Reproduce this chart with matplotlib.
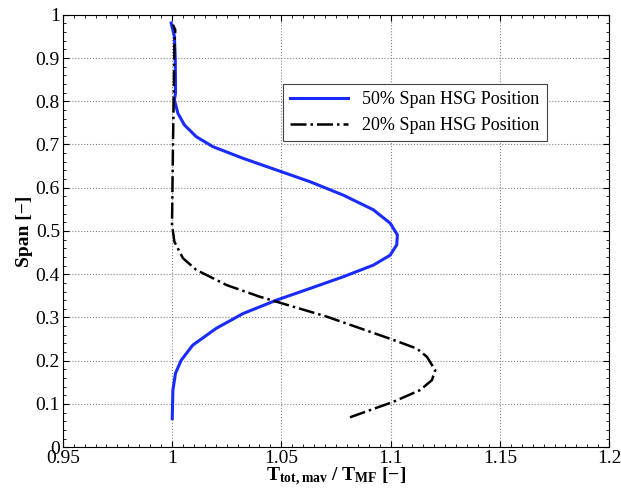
import matplotlib.pyplot as plt
from matplotlib.ticker import MultipleLocator

plt.rcParams['font.family'] = ['Liberation Serif', 'DejaVu Serif']
plt.rcParams['mathtext.fontset'] = 'custom'
plt.rcParams['mathtext.rm'] = 'Liberation Serif'
plt.rcParams['mathtext.bf'] = 'Liberation Serif:bold'

# 50% span HSG position
span_50 = [0.066, 0.132, 0.171, 0.201, 0.236, 0.275, 0.309, 0.340, 0.367, 0.394,
           0.421, 0.444, 0.468, 0.491, 0.518, 0.549, 0.583, 0.614, 0.641, 0.668,
           0.695, 0.718, 0.745, 0.772, 0.803, 0.819, 0.896, 0.950, 0.981]
t_50 = [1.0001, 1.0004, 1.0016, 1.0042, 1.0095, 1.0203, 1.0325, 1.0478, 1.0631, 1.0783,
        1.0921, 1.0998, 1.1028, 1.1031, 1.0998, 1.0921, 1.0783, 1.0631, 1.0478, 1.0325,
        1.0187, 1.0111, 1.0057, 1.0027, 1.0011, 1.0016, 1.0015, 1.0011, 0.9996]

# 20% span HSG position
span_20 = [0.069, 0.105, 0.132, 0.155, 0.178, 0.209, 0.228, 0.248, 0.275, 0.302,
           0.325, 0.348, 0.375, 0.410, 0.437, 0.475, 0.514, 0.600, 0.720, 0.850,
           0.930, 0.965, 0.977]
t_20 = [1.0814, 1.1013, 1.1135, 1.1189, 1.1204, 1.1166, 1.1120, 1.1013, 1.0860, 1.0707,
        1.0554, 1.0401, 1.0249, 1.0111, 1.0050, 1.0011, 1.0000, 1.0002, 1.0005, 1.0009,
        1.0011, 1.0015, 1.0004]

fig = plt.figure(figsize=(6.21, 4.93), dpi=100)
ax = fig.add_axes([0.101, 0.093, 0.880, 0.877])

ax.plot(t_50, span_50, '-', color='#1a2bff', linewidth=2.2, label='50% Span HSG Position')
ax.plot(t_20, span_20, '-.', color='black', linewidth=1.8, label='20% Span HSG Position')

ax.set_xlim(0.95, 1.2)
ax.set_ylim(0, 1)
ax.set_xticks([0.95, 1.0, 1.05, 1.1, 1.15, 1.2])
ax.set_xticklabels(['0.95', '1', '1.05', '1.1', '1.15', '1.2'])
ax.set_yticks([0, 0.1, 0.2, 0.3, 0.4, 0.5, 0.6, 0.7, 0.8, 0.9, 1])
ax.set_yticklabels(['0', '0.1', '0.2', '0.3', '0.4', '0.5', '0.6', '0.7', '0.8', '0.9', '1'])
ax.xaxis.set_minor_locator(MultipleLocator(0.005))
ax.yaxis.set_minor_locator(MultipleLocator(0.02))
ax.tick_params(which='both', direction='in', top=True, right=True, labelsize=14, pad=2)
ax.tick_params(which='major', length=4)
ax.tick_params(which='minor', length=2)
ax.grid(True, linestyle=':', color='gray', linewidth=0.8)

ax.set_xlabel(r'$\mathbf{T_{tot,mav}}$ / $\mathbf{T_{MF}}$ [−]', fontsize=14, fontweight='bold', labelpad=-1)
ax.set_ylabel('Span [−]', fontsize=14, fontweight='bold', labelpad=2)

leg = ax.legend(loc='upper left', bbox_to_anchor=(0.403, 0.84), fontsize=13,
                fancybox=False, edgecolor='#444444', framealpha=1, borderaxespad=0,
                handlelength=3.2)
leg.get_frame().set_linewidth(0.8)

plt.savefig('out.png', dpi=100)
